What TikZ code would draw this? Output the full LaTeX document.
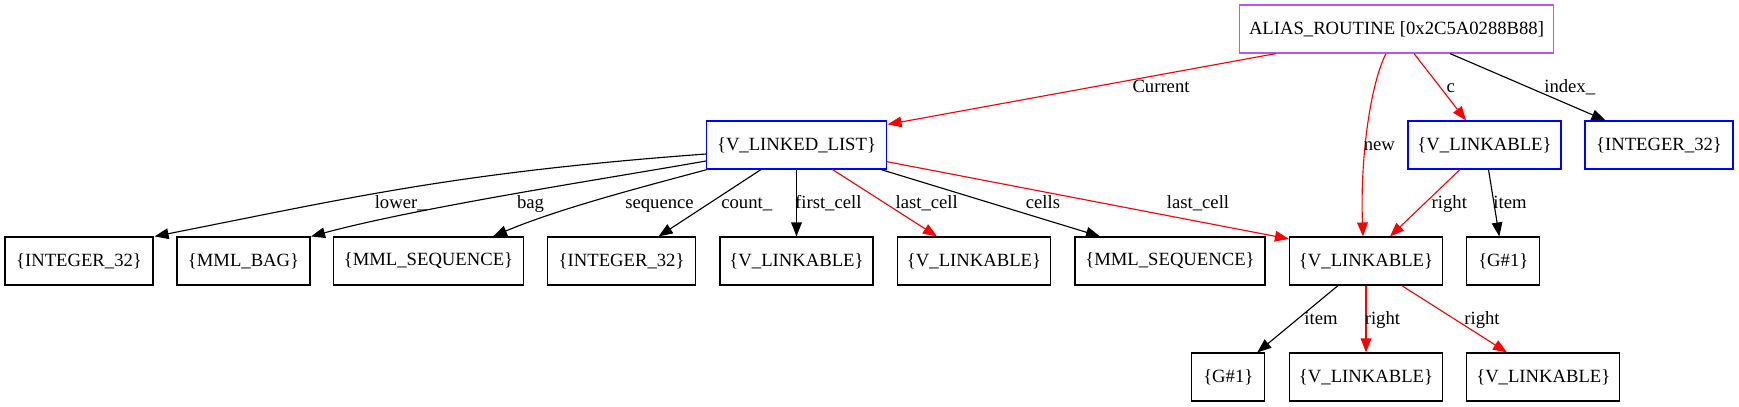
\documentclass[tikz,border=0pt]{standalone}
\usepackage{fontspec}
\setmainfont{Liberation Serif}
\usetikzlibrary{arrows.meta,calc}
\definecolor{gvred}{RGB}{255,0,0}
\definecolor{gvblue}{RGB}{0,0,255}
\definecolor{gvpurple}{RGB}{184,88,244}
\begin{document}
\begin{tikzpicture}[x=0.75pt,y=-0.75pt,
  box/.style={draw, rectangle, line width=0.85pt, minimum height=36pt, inner sep=0pt,
    font=\fontsize{14}{16}\selectfont},
  wd/.style={minimum width={#1*0.75pt}},
  lbl/.style={inner sep=0pt, anchor=base, font=\fontsize{14}{16}\selectfont},
  edge/.style={line width=0.85pt, -{Triangle[length=10.5pt,width=8pt]}},
  redge/.style={edge, color=gvred}
]
\useasboundingbox (0,0) rectangle (1739,407);

% nodes
\node[box, draw=gvpurple, wd=314] (alias) at (1396.5,29) {ALIAS\_ROUTINE [0x2C5A0288B88]};
\node[box, draw=gvblue, wd=180] (vll) at (796.5,145) {\{V\_LINKED\_LIST\}};
\node[box, draw=gvblue, wd=153] (vlc) at (1484.5,145) {\{V\_LINKABLE\}};
\node[box, draw=gvblue, wd=148] (intr) at (1659,145) {\{INTEGER\_32\}};

\node[box, wd=148] (inta) at (79,261) {\{INTEGER\_32\}};
\node[box, wd=133] (bag) at (243.5,261) {\{MML\_BAG\}};
\node[box, wd=190] (seqa) at (428.5,261) {\{MML\_SEQUENCE\}};
\node[box, wd=148] (intb) at (621.6,261) {\{INTEGER\_32\}};
\node[box, wd=153] (vlka) at (796.5,261) {\{V\_LINKABLE\}};
\node[box, wd=153] (vlkb) at (974,261) {\{V\_LINKABLE\}};
\node[box, wd=190] (seqb) at (1170,261) {\{MML\_SEQUENCE\}};
\node[box, wd=153] (vlkc) at (1366,261) {\{V\_LINKABLE\}};
\node[box, wd=73] (ga) at (1503.3,261) {\{G\#1\}};

\node[box, wd=73] (gb) at (1228.3,377) {\{G\#1\}};
\node[box, wd=153] (vlkd) at (1366,377) {\{V\_LINKABLE\}};
\node[box, wd=153] (vlke) at (1543.3,377) {\{V\_LINKABLE\}};

% edges from ALIAS_ROUTINE
\draw[redge] ($(alias.south)+(-120.5,0)$) -- ($(vll.north east)+(0.5,4)$);
\draw[redge] ($(alias.south)+(-10.5,0)$) .. controls (1370,85) and (1360,160) .. ($(vlkc.north)+(-3,0)$);
\draw[redge] ($(alias.south)+(17.5,0)$) -- ($(vlc.north)+(-18.5,0)$);
\draw[edge] ($(alias.south)+(53.5,0)$) -- ($(intr.north)+(-53.5,0)$);

% edges from V_LINKABLE (c)
\draw[redge] ($(vlc.south)+(-24.5,0)$) -- ($(vlkc.north)+(24,0)$);
\draw[edge] ($(vlc.south)+(4,0)$) -- ($(ga.north)+(-4,0)$);

% edges from V_LINKABLE (big)
\draw[edge] ($(vlkc.south)+(-28,0)$) -- ($(gb.north)+(29,0)$);
\draw[redge] (vlkc.south) -- (vlkd.north);
\draw[redge] ($(vlkc.south)+(35.7,0)$) -- ($(vlke.north)+(-36.3,0)$);

% edges from V_LINKED_LIST
\draw[edge] ($(vll.west)+(0,9)$) .. controls (456,172.5) and (354,197) .. ($(inta.north east)+(1,0)$);
\draw[edge] ($(vll.west)+(0,16)$) .. controls (610,178) and (420,207) .. ($(bag.north east)+(0.5,0)$);
\draw[edge] ($(vll.south west)+(1,0)$) .. controls (650,185) and (560,208) .. ($(seqa.north)+(64.5,0)$);
\draw[edge] ($(vll.south)+(-35.5,0)$) -- ($(intb.north)+(37,0)$);
\draw[edge] (vll.south) -- (vlka.north);
\draw[redge] ($(vll.south)+(36,0)$) -- ($(vlkb.north)+(-37,0)$);
\draw[edge] ($(vll.south)+(84.5,0)$) -- ($(seqb.north)+(-70,0)$);
\draw[redge] ($(vll.east)+(0,16.7)$) -- ($(vlkc.north west)+(0,2.5)$);

% labels
\node[lbl] (lcur) at (1161,92.7) {Current};
\node[lbl] (lnew) at (1379.3,150) {new};
\node[lbl] (lc) at (1450.7,92.7) {c};
\node[lbl] (lidx) at (1569.7,92.7) {index\_};
\node[lbl] (lright1) at (1449.3,208.3) {right};
\node[lbl] (litem1) at (1510,208.3) {item};
\node[lbl] (llow) at (400.7,208) {lower\_};
\node[lbl] (lbag) at (530.5,208) {bag};
\node[lbl] (lseq) at (659.5,208) {sequence};
\node[lbl] (lcnt) at (746.7,208) {count\_};
\node[lbl] (lfirst) at (828.3,208) {first\_cell};
\node[lbl] (llast1) at (926.7,208) {last\_cell};
\node[lbl] (lcells) at (1043,208) {cells};
\node[lbl] (llast2) at (1198,208) {last\_cell};
\node[lbl] (litem2) at (1321,324) {item};
\node[lbl] (lright2) at (1382.4,324) {right};
\node[lbl] (lright3) at (1482,324) {right};
\end{tikzpicture}
\end{document}
